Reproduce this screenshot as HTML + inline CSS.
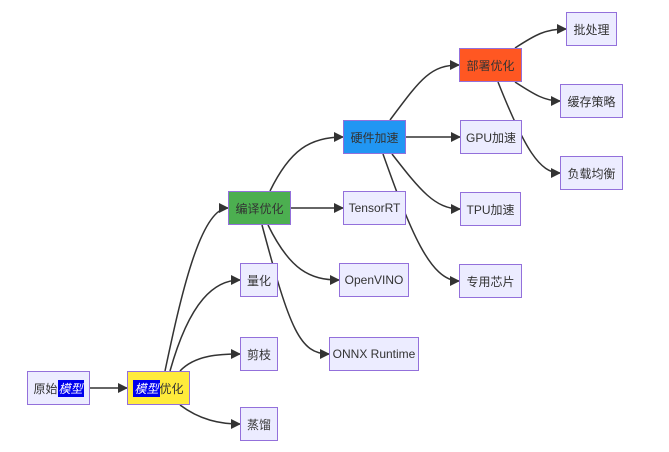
<!DOCTYPE html>
<html><head><meta charset="utf-8"><style>
body{margin:0;background:#fff;width:669px;height:452px;position:relative;overflow:hidden;font-family:"Liberation Sans","Noto Sans CJK SC",sans-serif;}
.n{position:absolute;box-sizing:border-box;border:1px solid #9370db;background:#ececff;color:#333;font-size:12px;display:flex;align-items:center;justify-content:center;white-space:nowrap;}
.h{background:#0000ee;color:#fff;font-style:italic;padding:0 1px;}
svg{position:absolute;left:0;top:0;}
</style></head><body>
<svg width="669" height="452">
<defs><marker id="a" markerWidth="10" markerHeight="10" refX="9" refY="5" orient="auto" markerUnits="userSpaceOnUse"><path d="M0,0L10,5L0,10z" fill="#333"/></marker></defs>
<g fill="none" stroke="#333" stroke-width="1.5" marker-end="url(#a)">
<path d="M90,388L127,388"/>
<path d="M165,371C180,300 200,208 228,208"/>
<path d="M170,371C190,300 215,280 240,280"/>
<path d="M180,371C195,355 220,354 240,354"/>
<path d="M180,405C200,420 220,424 240,424"/>
<path d="M270,191C290,150 310,137 343,137"/>
<path d="M291,208L343,208"/>
<path d="M268,225C290,270 310,280 339,280"/>
<path d="M262,225C290,330 300,354 329,354"/>
<path d="M390,120C420,80 430,65 459,65"/>
<path d="M406,137L460,137"/>
<path d="M392,154C420,190 435,209 460,209"/>
<path d="M383,154C410,230 430,281 459,281"/>
<path d="M515,48C535,35 545,29 566,29"/>
<path d="M515,82C535,95 545,101 560,101"/>
<path d="M498,82C525,150 540,173 560,173"/>
</g></svg>
<div class="n" style="left:27px;top:371px;width:63px;height:34px">原始<span class="h">模型</span></div>
<div class="n" style="left:127px;top:371px;width:63px;height:34px;background:#ffeb3b"><span class="h">模型</span>优化</div>
<div class="n" style="left:228px;top:191px;width:63px;height:34px;background:#4caf50">编译优化</div>
<div class="n" style="left:240px;top:263px;width:38px;height:34px">量化</div>
<div class="n" style="left:240px;top:337px;width:38px;height:34px">剪枝</div>
<div class="n" style="left:240px;top:407px;width:38px;height:34px">蒸馏</div>
<div class="n" style="left:343px;top:120px;width:63px;height:34px;background:#2196f3">硬件加速</div>
<div class="n" style="left:343px;top:191px;width:63px;height:34px">TensorRT</div>
<div class="n" style="left:339px;top:263px;width:70px;height:34px">OpenVINO</div>
<div class="n" style="left:329px;top:337px;width:90px;height:34px">ONNX Runtime</div>
<div class="n" style="left:459px;top:48px;width:63px;height:34px;background:#ff5722">部署优化</div>
<div class="n" style="left:460px;top:120px;width:62px;height:34px">GPU加速</div>
<div class="n" style="left:460px;top:192px;width:61px;height:34px">TPU加速</div>
<div class="n" style="left:459px;top:264px;width:63px;height:34px">专用芯片</div>
<div class="n" style="left:566px;top:12px;width:51px;height:34px">批处理</div>
<div class="n" style="left:560px;top:84px;width:63px;height:34px">缓存策略</div>
<div class="n" style="left:560px;top:156px;width:63px;height:34px">负载均衡</div>
</body></html>
